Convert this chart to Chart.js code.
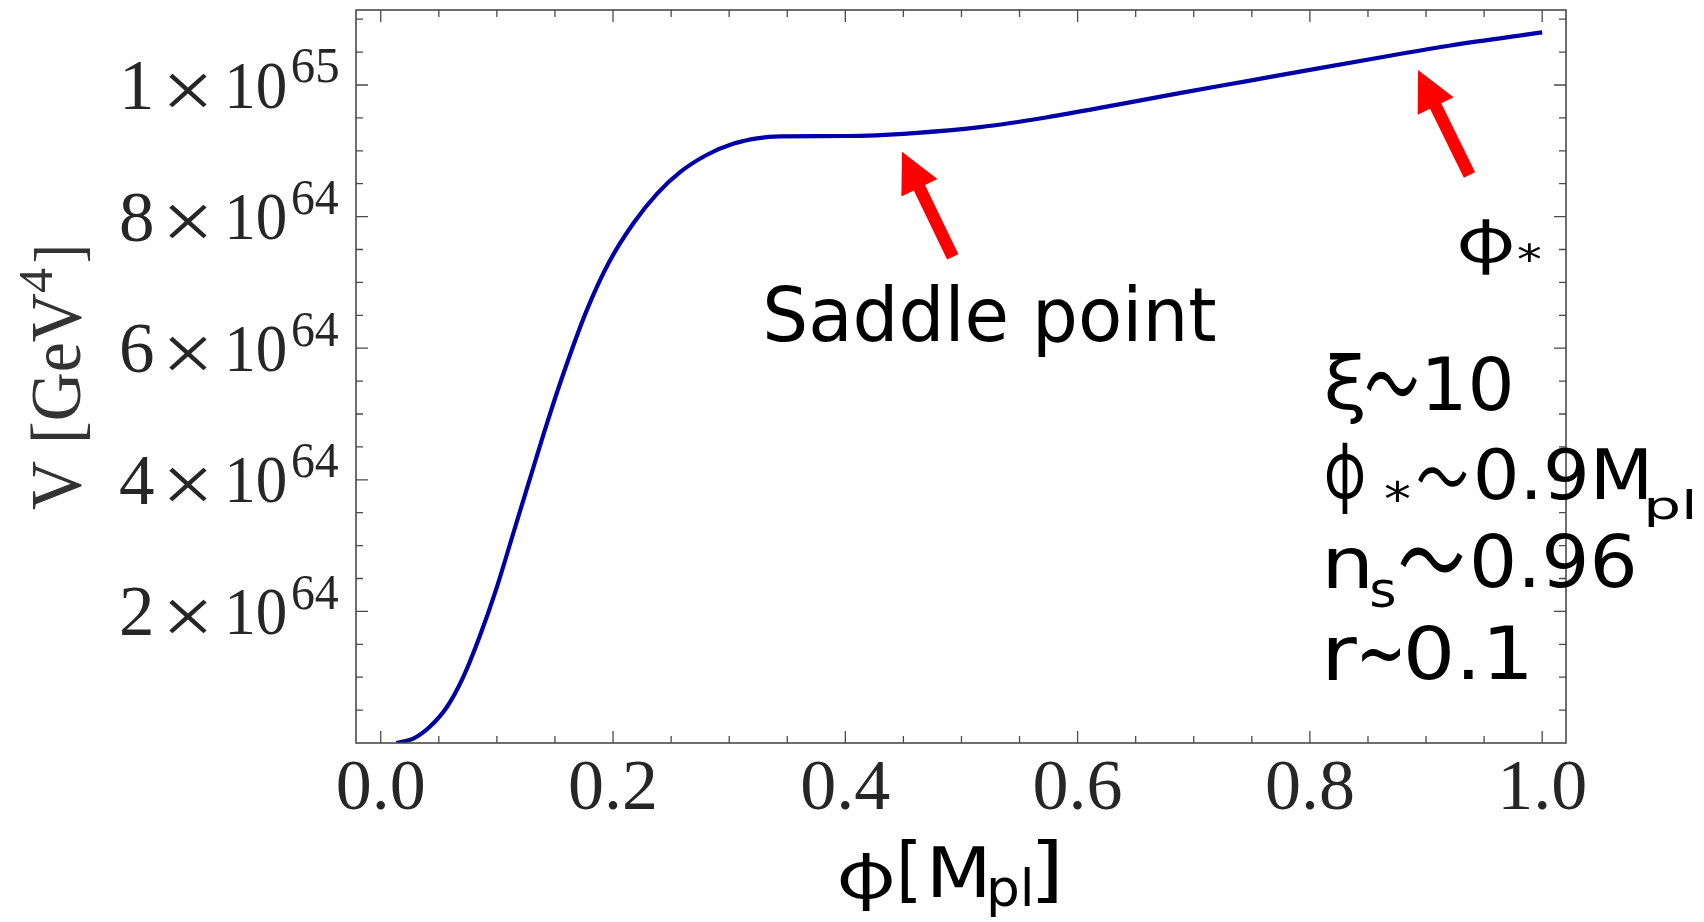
<!DOCTYPE html>
<html>
<head>
<meta charset="utf-8">
<script src="https://cdn.jsdelivr.net/npm/chart.js@4.4.1/dist/chart.umd.min.js"></script>
<style>
  html, body { margin: 0; padding: 0; background: #ffffff; }
  #wrap { width: 1704px; height: 922px; }
</style>
</head>
<body>
<div id="wrap"><canvas id="c" width="1704" height="922"></canvas></div>
<script>
// ---------------- data ----------------
const phi = [0.0135, 0.028, 0.042, 0.057, 0.071, 0.085, 0.100, 0.114, 0.128, 0.143,
             0.157, 0.177, 0.197, 0.218, 0.238, 0.258, 0.281, 0.304, 0.324, 0.344,
             0.401, 0.459, 0.516, 0.574, 0.631, 0.689, 0.746, 0.806, 0.864, 0.921, 1.0];
const V   = [0, 0.067e64, 0.243e64, 0.547e64, 1.00e64, 1.61e64, 2.37e64, 3.18e64, 3.99e64, 4.85e64,
             5.60e64, 6.56e64, 7.32e64, 7.91e64, 8.35e64, 8.68e64, 8.94e64, 9.11e64, 9.19e64, 9.22e64,
             9.225e64, 9.27e64, 9.36e64, 9.51e64, 9.69e64, 9.88e64, 10.06e64, 10.25e64, 10.43e64, 10.60e64, 10.80e64];

// ---------------- ticks ----------------
const xMajorTicks = [0, 0.2, 0.4, 0.6, 0.8, 1.0];
const xTickLabels = ['0.0', '0.2', '0.4', '0.6', '0.8', '1.0'];
const yMajorTicks = [2e64, 4e64, 6e64, 8e64, 1e65];
const yTickMantissa = ['2', '4', '6', '8', '1'];
const yTickExponent = ['64', '64', '64', '64', '65'];

// arrow annotations in data coordinates
const saddleArrow = { tip: [0.4488, 8.986e64], tail: [0.4925, 7.388e64] };
const starArrow   = { tip: [0.8931, 10.228e64], tail: [0.9374, 8.632e64] };

const points = phi.map((p, i) => ({ x: p, y: V[i] }));

function fitBox(ctx, text, font, x0, x1, y0, y1, color) {
  ctx.save();
  ctx.font = font;
  ctx.textAlign = 'left';
  ctx.textBaseline = 'alphabetic';
  const m = ctx.measureText(text);
  const w = m.actualBoundingBoxLeft + m.actualBoundingBoxRight;
  const h = m.actualBoundingBoxAscent + m.actualBoundingBoxDescent;
  const sx = (x1 - x0) / w, sy = (y1 - y0) / h;
  ctx.translate(x0, y0);
  ctx.scale(sx, sy);
  ctx.fillStyle = color || '#000';
  ctx.fillText(text, m.actualBoundingBoxLeft, m.actualBoundingBoxAscent);
  ctx.restore();
}

function drawArrow(ctx, x, y, arr) {
  const tx = x.getPixelForValue(arr.tip[0]), ty = y.getPixelForValue(arr.tip[1]);
  const bx = x.getPixelForValue(arr.tail[0]), by = y.getPixelForValue(arr.tail[1]);
  let dx = tx - bx, dy = ty - by;
  const L = Math.hypot(dx, dy); dx /= L; dy /= L;
  const nx = -dy, ny = dx;
  const headLen = 40, headHalf = 20, shaftHalf = 6.25;
  const hx = tx - dx * headLen, hy = ty - dy * headLen;
  ctx.save();
  ctx.fillStyle = '#ff0000';
  ctx.beginPath();
  ctx.moveTo(tx, ty);
  ctx.lineTo(hx + nx * headHalf, hy + ny * headHalf);
  ctx.lineTo(hx + nx * shaftHalf, hy + ny * shaftHalf);
  ctx.lineTo(bx + nx * shaftHalf, by + ny * shaftHalf);
  ctx.lineTo(bx - nx * shaftHalf, by - ny * shaftHalf);
  ctx.lineTo(hx - nx * shaftHalf, hy - ny * shaftHalf);
  ctx.lineTo(hx - nx * headHalf, hy - ny * headHalf);
  ctx.closePath();
  ctx.fill();
  ctx.restore();
}

const decorPlugin = {
  id: 'decor',
  afterDraw(chart) {
    const { ctx, chartArea: a, scales } = chart;
    const x = scales.x, y = scales.y;
    const serif = '"Liberation Serif", "DejaVu Serif", serif';
    const sans = '"DejaVu Sans", Verdana, sans-serif';
    const cjk = '"Noto Sans CJK JP", "DejaVu Sans", sans-serif';
    const phiFont = cjk;
    const txt = '#262626';

    // frame
    ctx.save();
    ctx.strokeStyle = '#4a4a4a';
    ctx.lineWidth = 1.6;
    ctx.strokeRect(a.left, a.top, a.right - a.left, a.bottom - a.top);
    ctx.lineWidth = 1.3;
    ctx.beginPath();
    for (let k = 0; k <= 20; k++) {
      const v = k * 0.05;
      const len = (k % 4 === 0) ? 12 : 7;
      const px = x.getPixelForValue(v);
      ctx.moveTo(px, a.bottom); ctx.lineTo(px, a.bottom - len);
      ctx.moveTo(px, a.top); ctx.lineTo(px, a.top + len);
    }
    for (let k = 1; k <= 22; k++) {
      const v = k * 0.5e64;
      const len = (k % 4 === 0) ? 12 : 7;
      const py = y.getPixelForValue(v);
      ctx.moveTo(a.left, py); ctx.lineTo(a.left + len, py);
      ctx.moveTo(a.right, py); ctx.lineTo(a.right - len, py);
    }
    ctx.stroke();
    ctx.restore();

    // x tick labels
    ctx.save();
    ctx.font = '72px ' + serif;
    ctx.fillStyle = txt;
    ctx.textAlign = 'center';
    ctx.textBaseline = 'alphabetic';
    xMajorTicks.forEach((v, i) => {
      ctx.fillText(xTickLabels[i], x.getPixelForValue(v), a.bottom + 66);
    });
    ctx.restore();

    // y tick labels  m × 10^e
    yMajorTicks.forEach((v, i) => {
      const py = y.getPixelForValue(v);
      ctx.save();
      ctx.font = '71px ' + serif;
      ctx.fillStyle = txt;
      ctx.textAlign = 'center';
      ctx.fillText(yTickMantissa[i], a.left - 219.2, py + 24);
      ctx.restore();
      fitBox(ctx, '\u00d7', '72px ' + serif, a.left - 187.6, a.left - 149.3, py - 12, py + 22.3, txt);
      fitBox(ctx, '10', '71px ' + serif, a.left - 126.4, a.left - 70.9, py - 23.5, py + 23.5, txt);
      fitBox(ctx, yTickExponent[i], '50px ' + serif, a.left - 63.2, a.left - 17.3, py - 35.7, py - 1.7, txt);
    });

    // y axis title (rotated)
    ctx.save();
    ctx.translate(80.5, 510);
    ctx.rotate(-Math.PI / 2);
    fitBox(ctx, 'V [GeV', '76px ' + serif, 0, 217, -50.5, 9.5, '#333');
    fitBox(ctx, '4', '50px ' + serif, 217, 242, -60.5, -28.8, '#333');
    fitBox(ctx, ']', '76px ' + serif, 248.3, 261.7, -47.2, 9.5, '#333');
    ctx.restore();

    // x axis title  φ[M_pl]
    fitBox(ctx, '\u03c6', '72px ' + phiFont, 840, 891.7, 853.3, 911.7, '#000');
    fitBox(ctx, '[', '72px ' + sans, 901.7, 916.7, 840, 903, '#000');
    fitBox(ctx, 'M', '72px ' + sans, 933.3, 985, 845, 896.7, '#000');
    fitBox(ctx, 'pl', '52px ' + sans, 990, 1030, 866.7, 916.7, '#000');
    fitBox(ctx, ']', '72px ' + sans, 1038, 1056.7, 840, 903, '#000');

    // arrows
    drawArrow(ctx, x, y, saddleArrow);
    drawArrow(ctx, x, y, starArrow);

    // annotations
    fitBox(ctx, 'Saddle point', '76px ' + sans, 767, 1215, 284, 357, '#000');
    fitBox(ctx, '\u03c6', '66px ' + phiFont, 1460, 1511.7, 218, 275, '#000');
    fitBox(ctx, '*', '56px ' + sans, 1518, 1541, 243, 262, '#000');

    // parameter block
    fitBox(ctx, '\u03be', '75px ' + sans, 1326.7, 1363.3, 353.3, 425, '#000');
    fitBox(ctx, '\uff5e', '72px ' + cjk, 1366.7, 1416.7, 371.7, 396.7, '#000');
    fitBox(ctx, '10', '75px ' + sans, 1428.3, 1510, 355, 411, '#000');

    fitBox(ctx, '\u03c6', '80px ' + phiFont, 1326.7, 1363.3, 443.3, 515, '#000');
    fitBox(ctx, '*', '56px ' + sans, 1385, 1410, 480, 501.7, '#000');
    fitBox(ctx, '\uff5e', '72px ' + cjk, 1418.3, 1466.7, 466.7, 486.7, '#000');
    fitBox(ctx, '0.9M', '75px ' + sans, 1476.7, 1646.7, 446.7, 500, '#000');
    fitBox(ctx, 'pl', '50px ' + sans, 1648, 1693, 490, 526.7, '#000');

    fitBox(ctx, 'n', '75px ' + sans, 1328, 1368, 548, 588, '#000');
    fitBox(ctx, 's', '45px ' + sans, 1371.7, 1395, 580, 608.3, '#000');
    fitBox(ctx, '\uff5e', '90px ' + cjk, 1400, 1463, 546.7, 573.3, '#000');
    fitBox(ctx, '0.96', '75px ' + sans, 1473, 1633, 533.3, 588.3, '#000');

    fitBox(ctx, 'r', '75px ' + sans, 1328, 1357, 636.7, 680, '#000');
    fitBox(ctx, '~', '60px ' + sans, 1361.7, 1400, 646.7, 661.7, '#000');
    fitBox(ctx, '0.1', '78px ' + sans, 1408, 1527, 623.3, 680, '#000');
  }
};

new Chart(document.getElementById('c'), {
  type: 'line',
  data: {
    datasets: [{
      data: points,
      borderColor: '#0000a6',
      borderWidth: 4.2,
      pointRadius: 0,
      fill: false,
      cubicInterpolationMode: 'monotone'
    }]
  },
  options: {
    responsive: false,
    animation: false,
    devicePixelRatio: 1,
    layout: { padding: { left: 356, right: 138, top: 10, bottom: 179 } },
    plugins: { legend: { display: false }, tooltip: { enabled: false } },
    scales: {
      x: { type: 'linear', min: -0.0213, max: 1.0205, display: false },
      y: { type: 'linear', min: 0, max: 1.114e65, display: false }
    }
  },
  plugins: [decorPlugin]
});
</script>
</body>
</html>
